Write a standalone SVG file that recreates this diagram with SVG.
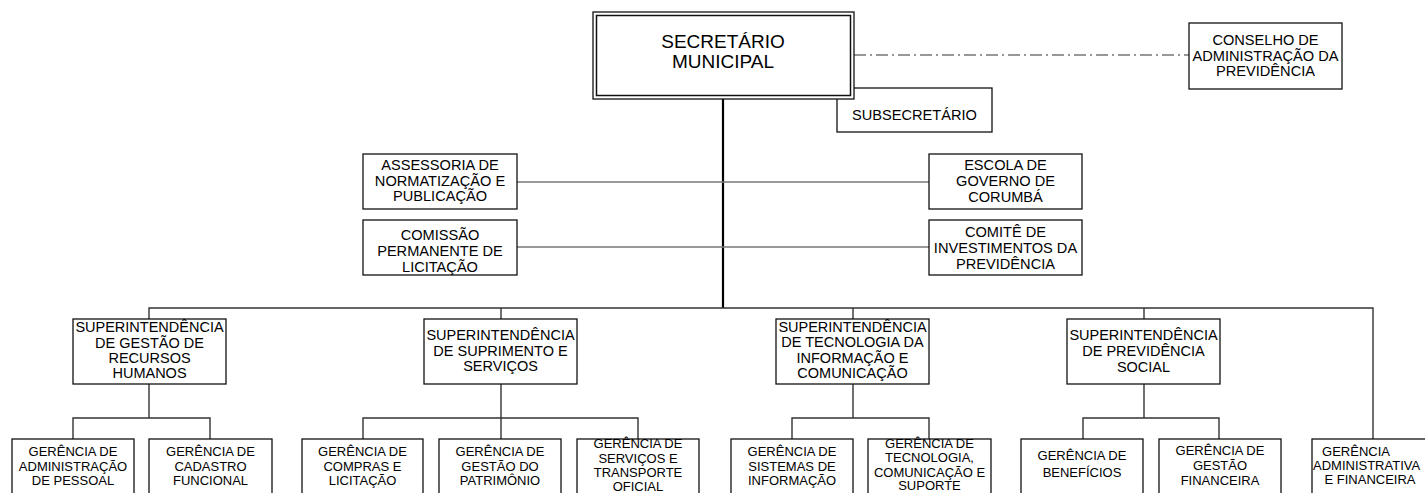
<svg xmlns="http://www.w3.org/2000/svg" width="1425" height="493" viewBox="0 0 1425 493">
<style>
.bx{fill:#fff;stroke:#111;stroke-width:1.3}
.ln{fill:none;stroke:#333;stroke-width:1.4}
.lg{fill:none;stroke:#777;stroke-width:1.4}
text{font-family:"Liberation Sans",Arial,sans-serif;fill:#000;text-anchor:middle}
.t19{font-size:19px}
.t15{font-size:14.6px}
.t14{font-size:14.5px}
.t13{font-size:13px}
</style>
<rect width="1425" height="493" fill="#fff"/>
<g id="connectors">
<line x1="854" y1="55" x2="1189" y2="55" stroke="#777" stroke-width="1.3" stroke-dasharray="12,4,2,4"/>
<line x1="723" y1="99" x2="723" y2="308" stroke="#000" stroke-width="2.2"/>
<line class="lg" x1="517" y1="182" x2="929" y2="182"/>
<line class="lg" x1="517" y1="247" x2="929" y2="247"/>
<polyline class="ln" points="149,319 149,308 1373,308 1373,439"/>
<line class="ln" x1="501" y1="308" x2="501" y2="319"/>
<line class="ln" x1="853" y1="308" x2="853" y2="319"/>
<line class="ln" x1="1144" y1="308" x2="1144" y2="319"/>
<polyline class="ln" points="149,384 149,418"/>
<polyline class="ln" points="73,439 73,418 210,418 210,439"/>
<polyline class="ln" points="501,384 501,439"/>
<polyline class="ln" points="363,439 363,418 638,418 638,439"/>
<polyline class="ln" points="853,384 853,418"/>
<polyline class="ln" points="792,439 792,418 929,418 929,439"/>
<polyline class="ln" points="1144,384 1144,418"/>
<polyline class="ln" points="1083,439 1083,418 1219,418 1219,439"/>
</g>
<g id="subsecretario">
<rect class="bx" x="837" y="88" width="155" height="44"/>
<text class="t15" x="914.5" y="120">SUBSECRETÁRIO</text>
</g>
<g id="secretario">
<rect class="bx" x="593" y="12" width="261" height="87" stroke-width="1.5"/>
<rect x="596.5" y="15.5" width="254" height="80" fill="none" stroke="#111" stroke-width="1.5"/>
<text class="t19" x="723" y="48">SECRETÁRIO</text>
<text class="t19" x="723" y="68">MUNICIPAL</text>
</g>
<g id="conselho">
<rect class="bx" x="1189" y="23" width="153" height="66"/>
<text class="t15" x="1265.5" y="45">CONSELHO DE</text>
<text class="t15" x="1265.5" y="61">ADMINISTRAÇÃO DA</text>
<text class="t15" x="1265.5" y="76">PREVIDÊNCIA</text>
</g>
<g id="assessoria">
<rect class="bx" x="363" y="154" width="154" height="55"/>
<text class="t15" x="440" y="170">ASSESSORIA DE</text>
<text class="t15" x="440" y="186">NORMATIZAÇÃO E</text>
<text class="t15" x="440" y="201">PUBLICAÇÃO</text>
</g>
<g id="comissao">
<rect class="bx" x="363" y="220" width="154" height="55"/>
<text class="t15" x="440" y="240">COMISSÃO</text>
<text class="t15" x="440" y="256">PERMANENTE DE</text>
<text class="t15" x="440" y="272">LICITAÇÃO</text>
</g>
<g id="escola">
<rect class="bx" x="929" y="154" width="153" height="55"/>
<text class="t15" x="1005.5" y="170">ESCOLA DE</text>
<text class="t15" x="1005.5" y="186">GOVERNO DE</text>
<text class="t15" x="1005.5" y="202">CORUMBÁ</text>
</g>
<g id="comite">
<rect class="bx" x="929" y="220" width="153" height="55"/>
<text class="t15" x="1005.5" y="237">COMITÊ DE</text>
<text class="t15" x="1005.5" y="253">INVESTIMENTOS DA</text>
<text class="t15" x="1005.5" y="269">PREVIDÊNCIA</text>
</g>
<g id="sup-rh">
<rect class="bx" x="73" y="319" width="153" height="65"/>
<text class="t14" x="149.5" y="332">SUPERINTENDÊNCIA</text>
<text class="t14" x="149.5" y="348">DE GESTÃO DE</text>
<text class="t14" x="149.5" y="363">RECURSOS</text>
<text class="t14" x="149.5" y="378">HUMANOS</text>
</g>
<g id="sup-suprimento">
<rect class="bx" x="424" y="319" width="153" height="65"/>
<text class="t14" x="500.5" y="340">SUPERINTENDÊNCIA</text>
<text class="t14" x="500.5" y="356">DE SUPRIMENTO E</text>
<text class="t14" x="500.5" y="371">SERVIÇOS</text>
</g>
<g id="sup-tecnologia">
<rect class="bx" x="776" y="319" width="153" height="65"/>
<text class="t14" x="852.5" y="332">SUPERINTENDÊNCIA</text>
<text class="t14" x="852.5" y="347">DE TECNOLOGIA DA</text>
<text class="t14" x="852.5" y="363">INFORMAÇÃO E</text>
<text class="t14" x="852.5" y="378">COMUNICAÇÃO</text>
</g>
<g id="sup-previdencia">
<rect class="bx" x="1067" y="319" width="153" height="65"/>
<text class="t14" x="1143.5" y="340">SUPERINTENDÊNCIA</text>
<text class="t14" x="1143.5" y="356">DE PREVIDÊNCIA</text>
<text class="t14" x="1143.5" y="372">SOCIAL</text>
</g>
<g id="ger-adm-pessoal">
<rect class="bx" x="12" y="439" width="122" height="62"/>
<text class="t13" x="73" y="456">GERÊNCIA DE</text>
<text class="t13" x="73" y="471">ADMINISTRAÇÃO</text>
<text class="t13" x="73" y="485">DE PESSOAL</text>
</g>
<g id="ger-cadastro">
<rect class="bx" x="149" y="439" width="123" height="62"/>
<text class="t13" x="210.5" y="456">GERÊNCIA DE</text>
<text class="t13" x="210.5" y="471">CADASTRO</text>
<text class="t13" x="210.5" y="485">FUNCIONAL</text>
</g>
<g id="ger-compras">
<rect class="bx" x="302" y="439" width="121" height="62"/>
<text class="t13" x="362.5" y="456">GERÊNCIA DE</text>
<text class="t13" x="362.5" y="471">COMPRAS E</text>
<text class="t13" x="362.5" y="485">LICITAÇÃO</text>
</g>
<g id="ger-patrimonio">
<rect class="bx" x="439" y="439" width="122" height="62"/>
<text class="t13" x="500" y="456">GERÊNCIA DE</text>
<text class="t13" x="500" y="471">GESTÃO DO</text>
<text class="t13" x="500" y="485">PATRIMÔNIO</text>
</g>
<g id="ger-servicos">
<rect class="bx" x="577" y="439" width="122" height="62"/>
<text class="t13" x="638" y="448">GERÊNCIA DE</text>
<text class="t13" x="638" y="463">SERVIÇOS E</text>
<text class="t13" x="638" y="477">TRANSPORTE</text>
<text class="t13" x="638" y="491">OFICIAL</text>
</g>
<g id="ger-sistemas">
<rect class="bx" x="731" y="439" width="122" height="62"/>
<text class="t13" x="792" y="456">GERÊNCIA DE</text>
<text class="t13" x="792" y="471">SISTEMAS DE</text>
<text class="t13" x="792" y="485">INFORMAÇÃO</text>
</g>
<g id="ger-tecnologia">
<rect class="bx" x="868" y="439" width="123" height="62"/>
<text class="t13" x="929.5" y="448">GERÊNCIA DE</text>
<text class="t13" x="929.5" y="462">TECNOLOGIA,</text>
<text class="t13" x="929.5" y="477">COMUNICAÇÃO E</text>
<text class="t13" x="929.5" y="490">SUPORTE</text>
</g>
<g id="ger-beneficios">
<rect class="bx" x="1021" y="439" width="122" height="62"/>
<text class="t13" x="1082" y="460">GERÊNCIA DE</text>
<text class="t13" x="1082" y="477">BENEFÍCIOS</text>
</g>
<g id="ger-financeira">
<rect class="bx" x="1159" y="439" width="122" height="62"/>
<text class="t13" x="1220" y="455">GERÊNCIA DE</text>
<text class="t13" x="1220" y="470">GESTÃO</text>
<text class="t13" x="1220" y="485">FINANCEIRA</text>
</g>
<g id="ger-adm-financeira">
<rect class="bx" x="1312" y="439" width="122" height="62"/>
<text class="t13" x="1356" y="456">GERÊNCIA</text>
<text class="t13" x="1313" y="470" style="text-anchor:start">ADMINISTRATIVA</text>
<text class="t13" x="1370" y="484">E FINANCEIRA</text>
</g>
</svg>
